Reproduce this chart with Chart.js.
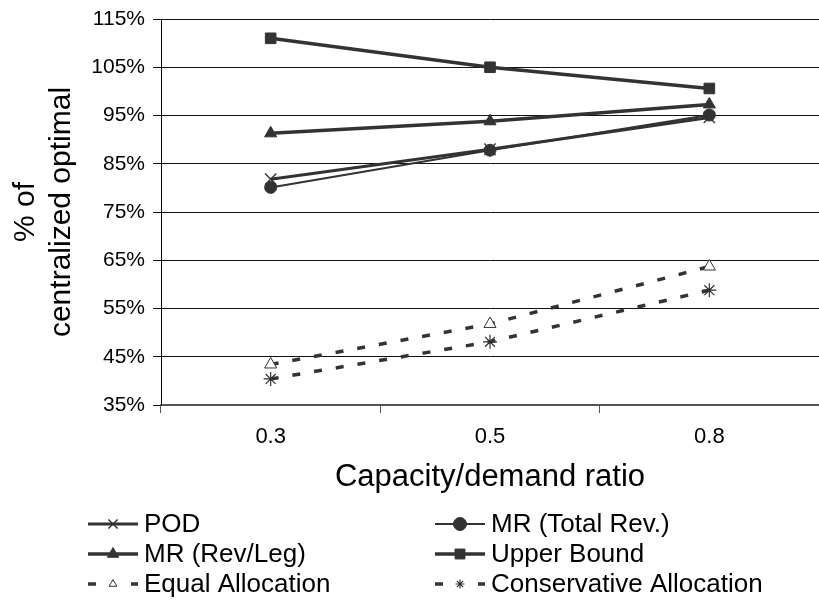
<!DOCTYPE html>
<html><head><meta charset="utf-8">
<script src="https://cdn.jsdelivr.net/npm/chart.js@4/dist/chart.umd.min.js"></script>
<style>html,body{margin:0;padding:0;background:#fff;overflow:hidden}#wrap{position:relative;width:819px;height:612px}</style>
</head><body><div id="wrap"><canvas id="c" width="819" height="612"></canvas></div>
<script>
const categories = ['0.3', '0.5', '0.8'];
const pod = [81.8, 88.0, 94.6];
const mrTotal = [80.1, 87.8, 95.1];
const mrRevLeg = [91.3, 93.8, 97.3];
const upperBound = [111.0, 105.0, 100.6];
const equalAlloc = [43.4, 51.8, 63.7];
const consAlloc = [40.4, 48.1, 58.8];
const yMin = 35, yMax = 115, yStep = 10;
const seriesNames = ['POD', 'MR (Total Rev.)', 'MR (Rev/Leg)', 'Upper Bound', 'Equal Allocation', 'Conservative Allocation'];

const FONT = "'Liberation Sans', Arial, sans-serif";
const C = '#333333';

function ds(label, data, o) {
  return Object.assign({
    label, data, borderColor: C, backgroundColor: C, pointBorderColor: C, pointBackgroundColor: C,
    fill: false, tension: 0, borderWidth: 3, pointBorderWidth: 1, pointRadius: 6
  }, o);
}

const datasets = [
  ds(seriesNames[0], pod, {borderWidth: 3, pointStyle: 'crossRot', pointRadius: 8, pointBorderWidth: 1.4}),
  ds(seriesNames[1], mrTotal, {borderWidth: 2, pointStyle: 'circle', pointRadius: 6}),
  ds(seriesNames[2], mrRevLeg, {borderWidth: 3.5, pointStyle: 'triangle', pointRadius: 7}),
  ds(seriesNames[3], upperBound, {borderWidth: 3.5, pointStyle: 'rect', pointRadius: 7.5}),
  ds(seriesNames[4], equalAlloc, {borderWidth: 3.5, borderDash: [8, 14], pointStyle: 'triangle', pointRadius: 7, pointBackgroundColor: '#fff', pointBorderWidth: 1}),
  ds(seriesNames[5], consAlloc, {borderWidth: 3.5, borderDash: [8, 14], pointStyle: 'star', pointRadius: 7, pointBorderWidth: 1.2})
];

function marker(ctx, style, r, x, y, fill, bw) {
  ctx.save();
  ctx.fillStyle = fill; ctx.strokeStyle = C; ctx.lineWidth = bw; ctx.setLineDash([]);
  if (Chart.helpers && Chart.helpers.drawPoint) {
    Chart.helpers.drawPoint(ctx, {pointStyle: style, radius: r, rotation: 0, borderWidth: bw}, x, y);
  }
  ctx.restore();
}

const legendPlugin = {
  id: 'customLegend',
  afterDraw(chart) {
    const ctx = chart.ctx;
    const cols = [88, 435];
    const rows = [524, 554, 584];
    const lw = 50;
    ctx.save();
    chart.data.datasets.forEach((d, i) => {
      const x0 = cols[i % 2], y = rows[Math.floor(i / 2)];
      ctx.strokeStyle = C; ctx.lineWidth = d.borderWidth;
      ctx.setLineDash([]);
      ctx.beginPath();
      if (d.borderDash) {
        ctx.moveTo(x0, y); ctx.lineTo(x0 + 8, y);
        ctx.moveTo(x0 + lw - 7, y); ctx.lineTo(x0 + lw, y);
      } else {
        ctx.moveTo(x0, y); ctx.lineTo(x0 + lw, y);
      }
      ctx.stroke();
      const small = d.borderDash ? 4.5 : (d.pointStyle === 'rect' ? 7 : 6.5);
      marker(ctx, d.pointStyle, small, x0 + lw / 2, y, d.pointBackgroundColor, d.pointBorderWidth);
      ctx.fillStyle = '#000';
      ctx.font = '26px ' + FONT;
      ctx.textBaseline = 'middle';
      ctx.textAlign = 'left';
      ctx.fillText(d.label, x0 + lw + 6, y + 1);
    });
    ctx.restore();
  }
};

new Chart(document.getElementById('c'), {
  type: 'line',
  data: {labels: categories, datasets},
  plugins: [legendPlugin],
  options: {
    responsive: false, animation: false, devicePixelRatio: 1,
    layout: {autoPadding: false, padding: {top: 19, right: -2, bottom: 116, left: 0}},
    plugins: {legend: {display: false}, tooltip: {enabled: false}},
    scales: {
      x: {
        type: 'category', offset: true,
        grid: {offset: true, drawOnChartArea: false, drawTicks: true, tickLength: 8, color: '#555'},
        border: {display: true, color: '#555', width: 2},
        ticks: {color: '#000', font: {family: FONT, size: 22}, padding: 11},
        title: {display: true, text: 'Capacity/demand ratio', color: '#000', font: {family: FONT, size: 31}, padding: 0},
        afterFit(s) { s.height = 91; s.paddingLeft = 0; s.paddingRight = 0; }
      },
      y: {
        min: yMin, max: yMax,
        grid: {color: '#111', lineWidth: 1, tickLength: 8, drawTicks: true},
        border: {display: true, color: '#000', width: 1},
        ticks: {stepSize: yStep, color: '#000', font: {family: FONT, size: 21}, padding: 8, callback: v => v + '%'},
        title: {display: true, text: ['% of', 'centralized optimal'], color: '#000', font: {family: FONT, size: 30, lineHeight: 1.22}, padding: {top: 7, bottom: 0}},
        afterFit(s) { s.width = 161; s.paddingTop = 0; s.paddingBottom = 0; }
      }
    }
  }
});
</script></body></html>
